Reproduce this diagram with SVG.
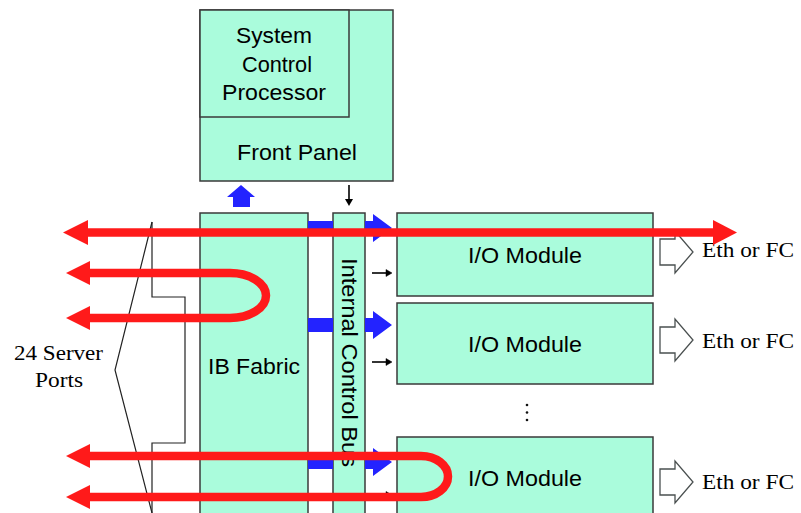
<svg xmlns="http://www.w3.org/2000/svg" width="801" height="513" viewBox="0 0 801 513">
<style>
.box{fill:#aafcdc;stroke:#3a3a3a;stroke-width:1.5}
.t{font-family:"Liberation Sans",Arial,sans-serif;font-size:22px;fill:#000;text-anchor:middle}
.s{font-family:"Liberation Serif","Times New Roman",serif;font-size:22px;fill:#000}
.red{fill:none;stroke:#ff1a1a;stroke-width:8.5}
.redh{fill:#ff1a1a}
.blue{fill:#2323ff}
.hollow{fill:#fff;stroke:#4a5050;stroke-width:1.3}
.thin{fill:none;stroke:#222;stroke-width:1.2}
</style>
<defs>
<path id="hol" d="M0,-13 H15 V-21 L33,0 L15,21 V13 H0 Z"/>
<path id="bar" d="M0,-7 H8 V-14 L27,0 L8,14 V7 H0 Z"/>
</defs>

<g id="front-panel">
<rect class="box" x="200" y="10" width="193" height="171"/>
<text class="t" x="297" y="160" textLength="120" lengthAdjust="spacingAndGlyphs">Front Panel</text>
</g>
<g id="system-control-processor">
<rect class="box" x="200" y="10" width="149" height="107"/>
<text class="t" x="274" y="43" textLength="76" lengthAdjust="spacingAndGlyphs">System</text>
<text class="t" x="277" y="72" textLength="70" lengthAdjust="spacingAndGlyphs">Control</text>
<text class="t" x="274" y="100" textLength="104" lengthAdjust="spacingAndGlyphs">Processor</text>
</g>
<g id="ib-fabric">
<rect class="box" x="200" y="213" width="108" height="310"/>
<text class="t" x="254" y="374" textLength="92" lengthAdjust="spacingAndGlyphs">IB Fabric</text>
</g>
<g id="internal-control-bus">
<rect class="box" x="333" y="213" width="32" height="310"/>
<text class="t" transform="translate(342,362.5) rotate(90)" textLength="209" lengthAdjust="spacingAndGlyphs">Internal Control Bus</text>
</g>
<g id="io-module-1">
<rect class="box" x="397" y="213" width="256" height="83"/>
<text class="t" x="525" y="263" textLength="114" lengthAdjust="spacingAndGlyphs">I/O Module</text>
</g>
<g id="io-module-2">
<rect class="box" x="397" y="303" width="256" height="81"/>
<text class="t" x="525" y="352" textLength="114" lengthAdjust="spacingAndGlyphs">I/O Module</text>
</g>
<g id="io-module-3">
<rect class="box" x="397" y="437" width="256" height="90"/>
<text class="t" x="525" y="486" textLength="114" lengthAdjust="spacingAndGlyphs">I/O Module</text>
</g>
<g id="dots" fill="#111">
<circle cx="527" cy="405" r="1.3"/>
<circle cx="527" cy="412.5" r="1.3"/>
<circle cx="527" cy="420" r="1.3"/>
</g>

<g id="server-ports">
<path class="thin" d="M152,222 L115,370 L152,513"/>
<path class="thin" d="M152,222 V297 H185 V443 H152 V513"/>
<text class="s" x="58.5" y="360" text-anchor="middle" textLength="89" lengthAdjust="spacingAndGlyphs">24 Server</text>
<text class="s" x="59" y="387" text-anchor="middle" textLength="48" lengthAdjust="spacingAndGlyphs">Ports</text>
</g>

<g id="eth-ports">
<use href="#hol" class="hollow" transform="translate(660,252)"/>
<use href="#hol" class="hollow" transform="translate(660,340)"/>
<use href="#hol" class="hollow" transform="translate(660,482)"/>
<text class="s" x="702" y="257" textLength="92" lengthAdjust="spacingAndGlyphs">Eth or FC</text>
<text class="s" x="702" y="348" textLength="92" lengthAdjust="spacingAndGlyphs">Eth or FC</text>
<text class="s" x="702" y="489" textLength="92" lengthAdjust="spacingAndGlyphs">Eth or FC</text>
</g>

<g id="connectors">
<path class="blue" d="M233,207 V197 H227 L241,185 L255,197 H250 V207 Z"/>
<path d="M349,185 V201" stroke="#000" stroke-width="1.6"/>
<path d="M345,199 L349,206 L353,199 Z" fill="#000"/>
<rect class="blue" x="308" y="221" width="25" height="13"/>
<use href="#bar" class="blue" transform="translate(365,228)"/>
<rect class="blue" x="308" y="318" width="25" height="14"/>
<use href="#bar" class="blue" transform="translate(365,325)"/>
<rect class="blue" x="308" y="456" width="25" height="13"/>
<use href="#bar" class="blue" transform="translate(365,462)"/>
<g stroke="#000" stroke-width="1.6" fill="#000">
<path d="M372,273 H387"/><path d="M386,269.5 L392,273 L386,276.5 Z" stroke-width="0.5"/>
<path d="M372,362 H387"/><path d="M386,358.5 L392,362 L386,365.5 Z" stroke-width="0.5"/>
<path d="M372,495 H387"/><path d="M386,491.5 L392,495 L386,498.5 Z" stroke-width="0.5"/>
</g>
<path class="red" d="M84,232.5 H716"/>
<path class="redh" d="M63,232.5 L88,220 V245 Z"/>
<path class="redh" d="M737,232.5 L713,220 V245 Z"/>
<path class="red" d="M86,273 H230 A36,22.5 0 0 1 230,318 H86"/>
<path class="redh" d="M66,273 L90,261 V285 Z"/>
<path class="redh" d="M66,318 L90,306 V330 Z"/>
<path class="red" d="M86,456 H421 A27,20.5 0 0 1 421,497 H86"/>
<path class="redh" d="M66,456 L90,444 V468 Z"/>
<path class="redh" d="M66,497 L90,485 V509 Z"/>
</g>
</svg>
